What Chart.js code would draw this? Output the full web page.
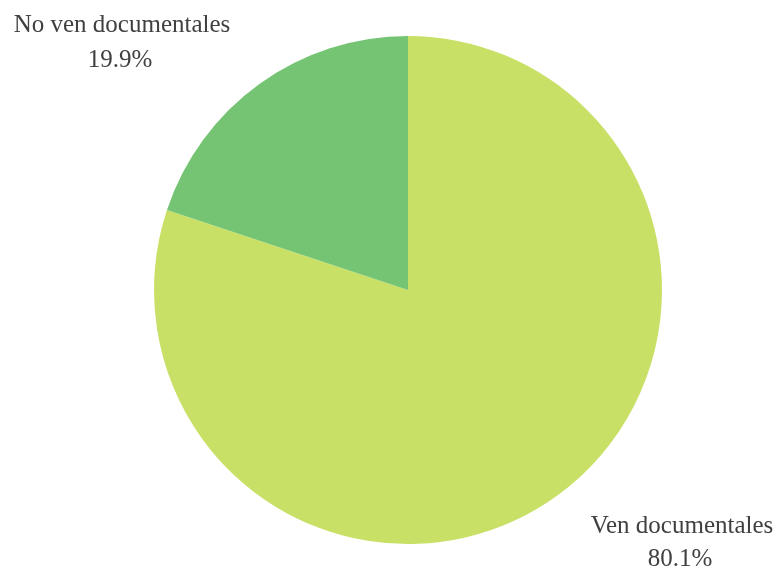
<!DOCTYPE html>
<html>
<head>
<meta charset="utf-8">
<script src="https://cdn.jsdelivr.net/npm/chart.js@4/dist/chart.umd.min.js"></script>
<style>
  html, body { margin: 0; padding: 0; background: #fff; }
  #wrap { width: 777px; height: 569px; }
</style>
</head>
<body>
<div id="wrap"><canvas id="myChart" width="777" height="569"></canvas></div>
<script>
// data
var categories = ['Ven documentales', 'No ven documentales'];
var values = [80.1, 19.9];
var colors = ['#C9E067', '#74C474'];

// draw the two slice labels (name + percent) at the corners like the original
var sliceLabels = {
    id: 'sliceLabels',
    afterDraw: function (chart) {
        var ctx = chart.ctx;
        var w = chart.width, h = chart.height;
        ctx.save();
        ctx.font = '25px "Liberation Serif", "Times New Roman", serif';
        ctx.fillStyle = '#404040';
        ctx.textAlign = 'center';
        ctx.textBaseline = 'alphabetic';
        // upper-left label: second slice
        ctx.fillText(categories[1], 122, 32);
        ctx.fillText(values[1].toFixed(1) + '%', 120, 67);
        // lower-right label: first slice
        ctx.fillText(categories[0], w - 95, 533);
        ctx.fillText(values[0].toFixed(1) + '%', w - 97, 566);
        ctx.restore();
    }
};

var myChart = document.getElementById('myChart').getContext('2d');
var chart = new Chart(myChart, {
    type: 'pie',
    data: {
        labels: categories,
        datasets: [{
            data: values,
            backgroundColor: colors,
            borderWidth: 0
        }]
    },
    options: {
        responsive: false,
        animation: false,
        layout: { padding: { top: 36, bottom: 25, left: 39, right: 0 } },
        plugins: {
            legend: { display: false },
            tooltip: { enabled: false }
        }
    },
    plugins: [sliceLabels]
});
</script>
</body>
</html>
